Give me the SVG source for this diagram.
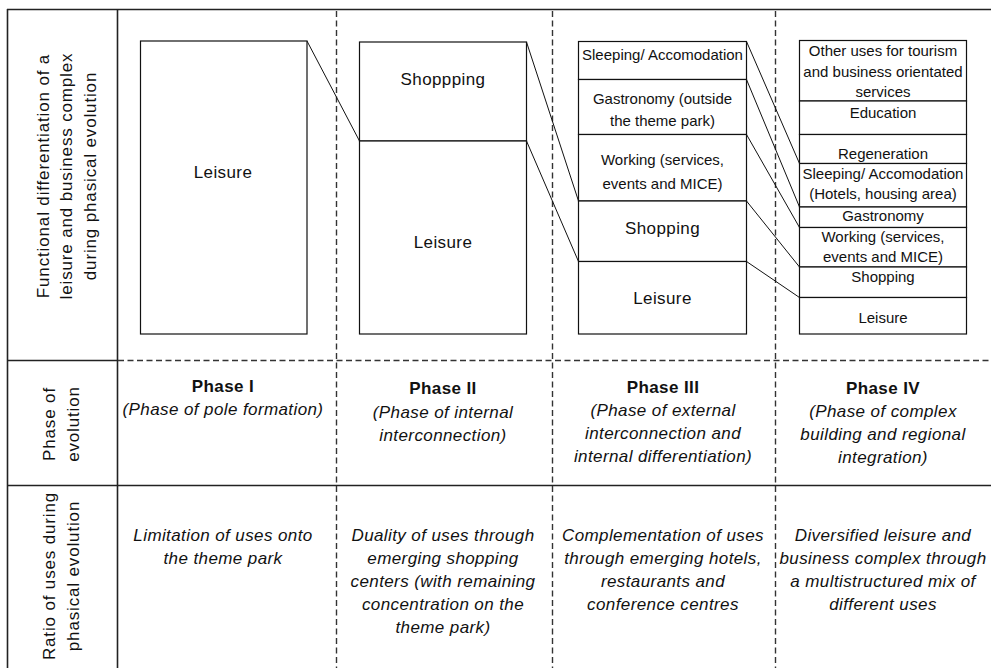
<svg xmlns="http://www.w3.org/2000/svg" width="991" height="668" viewBox="0 0 991 668">
  <style>
    text { font-family: "Liberation Sans", Arial, sans-serif; fill: #111; text-anchor: middle; }
    .lg { font-size: 17px; letter-spacing: 0.4px; }
    .hd { font-size: 17px; letter-spacing: 0.85px; }
    .sm { font-size: 15px; }
    .b { font-weight: bold; }
    .i { font-style: italic; }
    .frame { stroke: #222; stroke-width: 1.6; fill: none; }
    .dash { stroke: #333; stroke-width: 1.4; stroke-dasharray: 6 3.5; fill: none; }
    .seg { fill: #fff; stroke: #111; stroke-width: 1.2; }
    .conn line { stroke: #111; stroke-width: 1; }
  </style>

  <rect width="991" height="668" fill="#fff"/>

  <!-- table frame -->
  <g id="table">
    <line class="frame" x1="7" y1="9.5" x2="991" y2="9.5"/>
    <line class="frame" x1="7.5" y1="9" x2="7.5" y2="668"/>
    <line class="frame" x1="117.5" y1="9" x2="117.5" y2="668"/>
    <line class="frame" x1="7" y1="360.5" x2="117.5" y2="360.5"/>
    <line class="dash" x1="118" y1="360.5" x2="991" y2="360.5"/>
    <line class="frame" x1="7" y1="485.5" x2="991" y2="485.5"/>
    <line class="dash" x1="336.5" y1="11" x2="336.5" y2="668"/>
    <line class="dash" x1="552.5" y1="11" x2="552.5" y2="668"/>
    <line class="dash" x1="775.5" y1="11" x2="775.5" y2="668"/>
  </g>

  <!-- row headings -->
  <g id="row-functional" class="hd" transform="translate(0,176) rotate(-90)">
    <text x="0" y="48.5">Functional differentiation of a</text>
    <text x="0" y="72">leisure and business complex</text>
    <text x="0" y="95.5">during phasical evolution</text>
  </g>
  <g id="row-phase" class="hd" transform="translate(0,424) rotate(-90)">
    <text x="0" y="55">Phase of</text>
    <text x="0" y="79">evolution</text>
  </g>
  <g id="row-ratio" class="hd" transform="translate(0,576) rotate(-90)">
    <text x="0" y="55">Ratio of uses during</text>
    <text x="0" y="79">phasical evolution</text>
  </g>

  <!-- connectors between the stacked use blocks -->
  <g id="connectors" class="conn">
    <line x1="307" y1="41" x2="359.5" y2="141"/>
    <line x1="526.5" y1="42" x2="578.5" y2="201"/>
    <line x1="526.5" y1="141" x2="578.5" y2="261.5"/>
    <line x1="746.5" y1="41.5" x2="799.5" y2="163.5"/>
    <line x1="746.5" y1="79.5" x2="799.5" y2="207"/>
    <line x1="746.5" y1="134.5" x2="799.5" y2="227.5"/>
    <line x1="746.5" y1="201" x2="799.5" y2="267"/>
    <line x1="746.5" y1="261.5" x2="799.5" y2="297.5"/>
  </g>

  <!-- Phase I block -->
  <g id="p1-leisure">
    <rect class="seg" x="140.5" y="41" width="166.5" height="293"/>
    <text class="lg" x="223" y="178">Leisure</text>
  </g>

  <!-- Phase II blocks -->
  <g id="p2-shopping">
    <rect class="seg" x="359.5" y="42" width="167" height="99"/>
    <text class="lg" x="443" y="85">Shoppping</text>
  </g>
  <g id="p2-leisure">
    <rect class="seg" x="359.5" y="141" width="167" height="193"/>
    <text class="lg" x="443" y="248">Leisure</text>
  </g>

  <!-- Phase III blocks -->
  <g id="p3-sleeping">
    <rect class="seg" x="578.5" y="41.5" width="168" height="38"/>
    <text class="sm" x="662.5" y="60">Sleeping/ Accomodation</text>
  </g>
  <g id="p3-gastronomy">
    <rect class="seg" x="578.5" y="79.5" width="168" height="55"/>
    <text class="sm" x="662.5" y="104">Gastronomy (outside</text>
    <text class="sm" x="662.5" y="126">the theme park)</text>
  </g>
  <g id="p3-working">
    <rect class="seg" x="578.5" y="134.5" width="168" height="66.5"/>
    <text class="sm" x="662.5" y="165">Working (services,</text>
    <text class="sm" x="662.5" y="189">events and MICE)</text>
  </g>
  <g id="p3-shopping">
    <rect class="seg" x="578.5" y="201" width="168" height="60.5"/>
    <text class="lg" x="662.5" y="234">Shopping</text>
  </g>
  <g id="p3-leisure">
    <rect class="seg" x="578.5" y="261.5" width="168" height="72.5"/>
    <text class="lg" x="662.5" y="304">Leisure</text>
  </g>

  <!-- Phase IV blocks -->
  <g id="p4-other">
    <rect class="seg" x="799.5" y="40.5" width="167" height="60.5"/>
    <text class="sm" x="883" y="56">Other uses for tourism</text>
    <text class="sm" x="883" y="76.5">and business orientated</text>
    <text class="sm" x="883" y="97">services</text>
  </g>
  <g id="p4-education">
    <rect class="seg" x="799.5" y="101" width="167" height="33.5"/>
    <text class="sm" x="883" y="117.5">Education</text>
  </g>
  <g id="p4-regeneration">
    <rect class="seg" x="799.5" y="134.5" width="167" height="29"/>
    <text class="sm" x="883" y="158.5">Regeneration</text>
  </g>
  <g id="p4-sleeping">
    <rect class="seg" x="799.5" y="163.5" width="167" height="43.5"/>
    <text class="sm" x="883" y="178.5">Sleeping/ Accomodation</text>
    <text class="sm" x="883" y="198.5">(Hotels, housing area)</text>
  </g>
  <g id="p4-gastronomy">
    <rect class="seg" x="799.5" y="207" width="167" height="20.5"/>
    <text class="sm" x="883" y="220.5">Gastronomy</text>
  </g>
  <g id="p4-working">
    <rect class="seg" x="799.5" y="227.5" width="167" height="39.5"/>
    <text class="sm" x="883" y="242">Working (services,</text>
    <text class="sm" x="883" y="262">events and MICE)</text>
  </g>
  <g id="p4-shopping">
    <rect class="seg" x="799.5" y="267" width="167" height="30.5"/>
    <text class="sm" x="883" y="281.5">Shopping</text>
  </g>
  <g id="p4-leisure">
    <rect class="seg" x="799.5" y="297.5" width="167" height="36.5"/>
    <text class="sm" x="883" y="323">Leisure</text>
  </g>

  <!-- phase titles -->
  <g id="phase-1" class="lg">
    <text class="b" x="223" y="392">Phase I</text>
    <text class="i" x="223" y="415">(Phase of pole formation)</text>
  </g>
  <g id="phase-2" class="lg">
    <text class="b" x="443" y="394">Phase II</text>
    <text class="i" x="443" y="418">(Phase of internal</text>
    <text class="i" x="443" y="441">interconnection)</text>
  </g>
  <g id="phase-3" class="lg">
    <text class="b" x="663" y="393">Phase III</text>
    <text class="i" x="663" y="416">(Phase of external</text>
    <text class="i" x="663" y="439">interconnection and</text>
    <text class="i" x="663" y="462">internal differentiation)</text>
  </g>
  <g id="phase-4" class="lg">
    <text class="b" x="883" y="394">Phase IV</text>
    <text class="i" x="883" y="417">(Phase of complex</text>
    <text class="i" x="883" y="440">building and regional</text>
    <text class="i" x="883" y="463">integration)</text>
  </g>

  <!-- ratio of uses -->
  <g id="ratio-1" class="lg i">
    <text x="223" y="541">Limitation of uses onto</text>
    <text x="223" y="564">the theme park</text>
  </g>
  <g id="ratio-2" class="lg i">
    <text x="443" y="541">Duality of uses through</text>
    <text x="443" y="564">emerging shopping</text>
    <text x="443" y="587">centers (with remaining</text>
    <text x="443" y="610">concentration on the</text>
    <text x="443" y="633">theme park)</text>
  </g>
  <g id="ratio-3" class="lg i">
    <text x="663" y="541">Complementation of uses</text>
    <text x="663" y="564">through emerging hotels,</text>
    <text x="663" y="587">restaurants and</text>
    <text x="663" y="610">conference centres</text>
  </g>
  <g id="ratio-4" class="lg i">
    <text x="883" y="541">Diversified leisure and</text>
    <text x="883" y="564">business complex through</text>
    <text x="883" y="587">a multistructured mix of</text>
    <text x="883" y="610">different uses</text>
  </g>
</svg>
